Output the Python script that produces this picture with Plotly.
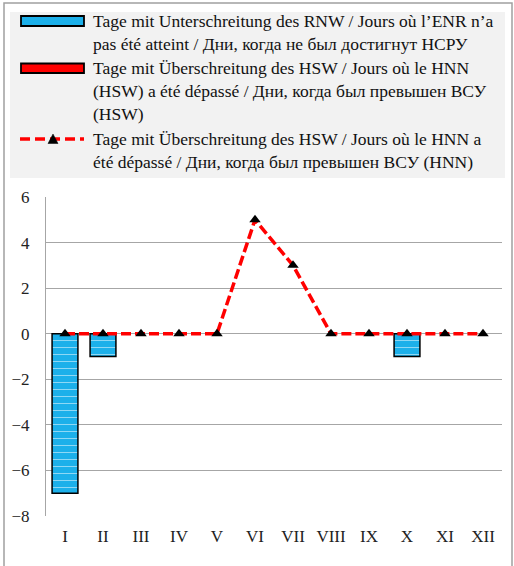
import plotly.graph_objects as go

months = ["I", "II", "III", "IV", "V", "VI", "VII", "VIII", "IX", "X", "XI", "XII"]
rnw_days = [-7, -1, 0, 0, 0, 0, 0, 0, 0, -1, 0, 0]
hsw_days = [0, 0, 0, 0, 0, 0, 0, 0, 0, 0, 0, 0]
hnn_days = [0, 0, 0, 0, 0, 5, 3, 0, 0, 0, 0, 0]
y_ticks = [6, 4, 2, 0, -2, -4, -6, -8]

name_rnw = ["Tage mit Unterschreitung des RNW / Jours où l’ENR n’a",
            "pas été atteint / Дни, когда не был достигнут НСРУ"]
name_hsw = ["Tage mit Überschreitung des HSW / Jours où le HNN",
            "(HSW) a été dépassé / Дни, когда был превышен ВСУ",
            "(HSW)"]
name_hnn = ["Tage mit Überschreitung des HSW / Jours où le HNN a",
            "été dépassé / Дни, когда был превышен ВСУ (HNN)"]

serif = "Liberation Serif, Times New Roman, serif"
BLUE = "#1CB0EA"
RED = "#FF0000"

# pixel -> paper helpers (plot area: x 46..502, y 197..516)
L, R, T, B = 46, 502, 197, 516
def xp(px):
    return (px - L) / (R - L)
def yp(py):
    return (B - py) / (B - T)

fig = go.Figure()
fig.add_trace(go.Bar(
    x=months, y=rnw_days, name=" ".join(name_rnw), width=0.68, showlegend=False,
    marker=dict(color=BLUE,
                line=dict(color="black", width=[1.5 if v != 0 else 0 for v in rnw_days]),
                pattern=dict(shape="-", fgcolor="white", bgcolor=BLUE, size=7, solidity=0.15)),
))
fig.add_trace(go.Bar(
    x=months, y=hsw_days, name=" ".join(name_hsw), width=0.68, showlegend=False,
    marker=dict(color=RED,
                line=dict(color="black", width=[1.5 if v != 0 else 0 for v in hsw_days]),
                pattern=dict(shape="-", fgcolor="white", bgcolor=RED, size=7, solidity=0.15)),
))
fig.add_trace(go.Scatter(
    x=months, y=hnn_days, name=" ".join(name_hnn), mode="lines+markers", showlegend=False,
    line=dict(color=RED, width=3.5, dash="10px,4px"),
    marker=dict(symbol="triangle-up", color="black", size=10),
))

# legend item vertical centres (px)
item_y = [32.5, 91, 150.5]
first_line = [21, 68, 139]

shapes = [
    # legend background
    dict(type="rect", xref="paper", yref="paper",
         x0=xp(10), x1=xp(505), y0=yp(178), y1=yp(12),
         fillcolor="#F2F2F2", line=dict(width=0), layer="below"),
    # outer border
    dict(type="rect", xref="paper", yref="paper",
         x0=xp(4), x1=xp(512), y0=yp(575), y1=yp(3),
         fillcolor="rgba(0,0,0,0)", line=dict(color="#A0A0A0", width=1.5), layer="below"),
    # legend symbols
    dict(type="rect", xref="paper", yref="paper",
         x0=xp(21), x1=xp(84), y0=yp(first_line[0] + 5), y1=yp(first_line[0] - 5),
         fillcolor=BLUE, line=dict(color="black", width=1.8)),
    dict(type="rect", xref="paper", yref="paper",
         x0=xp(21), x1=xp(84), y0=yp(first_line[1] + 5), y1=yp(first_line[1] - 4.5),
         fillcolor=RED, line=dict(color="black", width=1.8)),
    dict(type="line", xref="paper", yref="paper",
         x0=xp(20), x1=xp(84), y0=yp(first_line[2]), y1=yp(first_line[2]),
         line=dict(color=RED, width=3.5, dash="10px,5px")),
    dict(type="path", xref="paper", yref="paper",
         path="M {} {} L {} {} L {} {} Z".format(
             xp(48), yp(first_line[2] + 4.5), xp(58), yp(first_line[2] + 4.5),
             xp(53), yp(first_line[2] - 5)),
         fillcolor="black", line=dict(color="black", width=0.5)),
]

annotations = []
for lines, yc in zip([name_rnw, name_hsw, name_hnn], item_y):
    annotations.append(dict(
        xref="paper", yref="paper", x=xp(91), y=yp(yc), xanchor="left", yanchor="middle",
        text="<br>".join(lines), showarrow=False, align="left",
        font=dict(family=serif, size=17.5, color="#111111"),
    ))

fig.update_layout(
    width=514, height=566,
    margin=dict(l=L, r=514 - R, t=T, b=566 - B),
    paper_bgcolor="white", plot_bgcolor="white",
    barmode="overlay",
    font=dict(family=serif, size=17, color="#222222"),
    showlegend=False,
    xaxis=dict(type="category", showgrid=False, showline=False, ticks="",
               ticklabelstandoff=8,
               tickfont=dict(family=serif, size=17, color="#222222"), range=[-0.5, 11.5]),
    yaxis=dict(range=[-8, 6], tickvals=y_ticks, showgrid=True, gridcolor="#A6A6A6", gridwidth=1,
               zeroline=True, zerolinecolor="#A6A6A6", zerolinewidth=1,
               showline=True, linecolor="#A6A6A6", linewidth=1.2, ticks="",
               ticklabelstandoff=12,
               tickfont=dict(family=serif, size=17, color="#222222")),
    shapes=shapes,
    annotations=annotations,
)

fig.write_html("out.html", config={"displayModeBar": False},
               post_script="document.body.style.margin='0';document.body.style.padding='0';")
